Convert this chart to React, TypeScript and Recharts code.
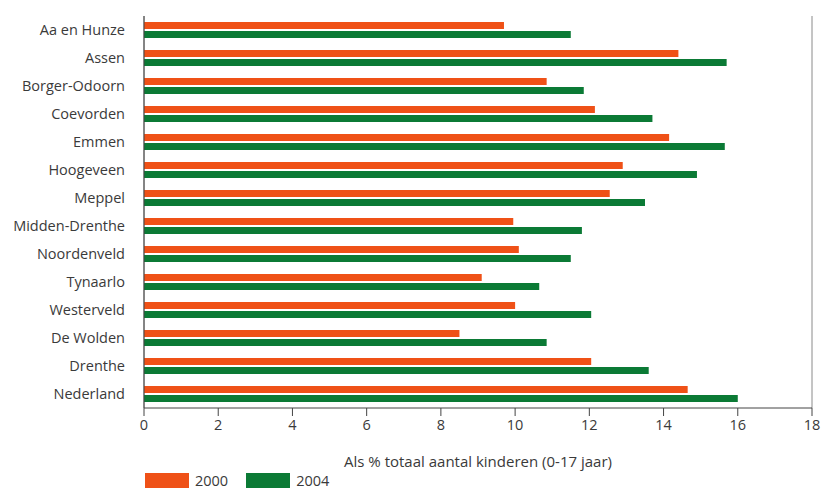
import React from "react";
import {
  BarChart,
  Bar,
  XAxis,
  YAxis,
  CartesianGrid,
  Legend,
  Label,
} from "recharts";

const categories = [
  "Aa en Hunze",
  "Assen",
  "Borger-Odoorn",
  "Coevorden",
  "Emmen",
  "Hoogeveen",
  "Meppel",
  "Midden-Drenthe",
  "Noordenveld",
  "Tynaarlo",
  "Westerveld",
  "De Wolden",
  "Drenthe",
  "Nederland",
];

const values2000 = [9.7, 14.4, 10.85, 12.15, 14.15, 12.9, 12.55, 9.95, 10.1, 9.1, 10.0, 8.5, 12.05, 14.65];
const values2004 = [11.5, 15.7, 11.85, 13.7, 15.65, 14.9, 13.5, 11.8, 11.5, 10.65, 12.05, 10.85, 13.6, 16.0];

const seriesNames = ["2000", "2004"];
const seriesColors = ["#EF5117", "#0B7A35"];
const xTicks = [0, 2, 4, 6, 8, 10, 12, 14, 16, 18];
const boundaryTicks = [0, 1, 2, 3, 4, 5, 6, 7, 8, 9, 10, 11, 12, 13, 14];
const axisTitle = "Als % totaal aantal kinderen (0-17 jaar)";

const data = categories.map((name, i) => ({
  name,
  v2000: values2000[i],
  v2004: values2004[i],
}));

const FONT = "'Open Sans', sans-serif";
const FS = 14.5;
const TEXT = "#3a3a3a";

const LegendContent = () => (
  <div style={{ display: "flex", alignItems: "flex-start", fontFamily: FONT, fontSize: FS, color: TEXT }}>
    {seriesNames.map((n, i) => (
      <div key={n} style={{ display: "flex", alignItems: "flex-start", marginRight: 18 }}>
        <div style={{ width: 44, height: 15, background: seriesColors[i], marginRight: 6 }} />
        <span style={{ lineHeight: "15px", marginTop: 0 }}>{n}</span>
      </div>
    ))}
  </div>
);

export default function App() {
  return (
    <div style={{ position: "absolute", left: 0, top: 0, width: 833, height: 490, background: "#fff" }}>
      <BarChart
        width={833}
        height={490}
        data={data}
        layout="vertical"
        margin={{ top: 16, right: 21, bottom: 0, left: 0 }}
        barSize={7}
        barGap={2}
      >
        <CartesianGrid horizontal={false} vertical={true} stroke="#8a8a8a" strokeWidth={1} />
        <XAxis
          xAxisId="main"
          type="number"
          domain={[0, 18]}
          ticks={xTicks}
          height={82}
          tickSize={8}
          tickMargin={4}
          stroke="#444"
          axisLine={{ stroke: "#444" }}
          tickLine={{ stroke: "#444" }}
          tick={{ fill: TEXT, fontSize: FS, fontFamily: FONT }}
        >
          <Label
            value={axisTitle}
            position="insideBottom"
            offset={23}
            style={{ fill: TEXT, fontSize: 15, fontFamily: FONT }}
          />
        </XAxis>
        <XAxis
          xAxisId="top"
          orientation="top"
          type="number"
          domain={[0, 18]}
          height={0}
          tick={false}
          tickLine={false}
          axisLine={{ stroke: "#8a8a8a" }}
        />
        <YAxis
          yAxisId="cat"
          type="category"
          dataKey="name"
          width={144}
          tickLine={false}
          tickSize={0}
          tickMargin={19}
          axisLine={{ stroke: "#444" }}
          tick={{ fill: TEXT, fontSize: FS, fontFamily: FONT }}
          interval={0}
        />
        <YAxis
          yAxisId="grid"
          type="number"
          domain={[0, 14]}
          ticks={boundaryTicks}
          width={0}
          tick={false}
          tickSize={9}
          axisLine={false}
          tickLine={{ stroke: "#444" }}
          allowDataOverflow
        />
        <Legend
          content={<LegendContent />}
          wrapperStyle={{ position: "absolute", left: 145, top: 473, width: 300, height: 0, bottom: "auto" }}
        />
        <Bar
          xAxisId="main"
          yAxisId="cat"
          dataKey="v2000"
          name={seriesNames[0]}
          fill={seriesColors[0]}
          isAnimationActive={false}
        />
        <Bar
          xAxisId="main"
          yAxisId="cat"
          dataKey="v2004"
          name={seriesNames[1]}
          fill={seriesColors[1]}
          isAnimationActive={false}
        />
      </BarChart>
    </div>
  );
}
